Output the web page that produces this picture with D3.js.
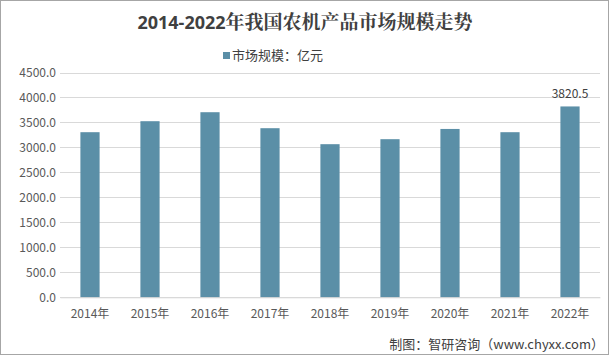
<!DOCTYPE html>
<html><head><meta charset="utf-8">
<script src="https://cdn.jsdelivr.net/npm/d3@7"></script>
<style>body{margin:0;background:#fff}svg{display:block}</style>
</head><body>
<script>
const categories = ["2014年","2015年","2016年","2017年","2018年","2019年","2020年","2021年","2022年"];
const values = [3305, 3525, 3705, 3385, 3065, 3165, 3370, 3305, 3820.5];
const yTicks = [0,500,1000,1500,2000,2500,3000,3500,4000,4500];
const labeled = ["2022年"];

const W=609,H=357;
const svg=d3.select("body").append("svg").attr("width",W).attr("height",H);
svg.append("rect").attr("x",0.5).attr("y",0.5).attr("width",W-1).attr("height",H-3).attr("fill","#fff").attr("stroke","#a6a6a6");

const x=d3.scaleBand().domain(categories).range([60,600]).paddingInner(0.68).paddingOuter(0.34);
const y=d3.scaleLinear().domain([0,4500]).range([297.3,72.5]);
const font='"Microsoft YaHei","Noto Sans CJK SC",sans-serif';

const title=svg.append("text").attr("x",305).attr("y",29).attr("text-anchor","middle")
 .attr("font-weight","bold").attr("font-size",19).attr("fill","#404040");
title.append("tspan").attr("font-family",'"Open Sans","Liberation Sans",sans-serif').attr("font-size",18).text("2014-2022");
title.append("tspan").attr("font-family",'"Noto Serif CJK SC","Noto Sans CJK SC",serif').text("年我国农机产品市场规模走势");

svg.append("rect").attr("x",223).attr("y",52).attr("width",7).attr("height",7).attr("fill","#5b8fa7");
svg.append("text").attr("x",232).attr("y",60).attr("font-family",font).attr("font-size",13).attr("fill","#404040").text("市场规模：亿元");

const g=svg.append("g");
g.selectAll("line.grid").data(yTicks).enter().append("line")
 .attr("x1",60).attr("x2",600).attr("y1",d=>Math.round(y(d))+0.5).attr("y2",d=>Math.round(y(d))+0.5)
 .attr("stroke","#d9d9d9").attr("stroke-width",1);

const yAxis=svg.append("g").attr("transform","translate(56,0)")
 .call(d3.axisLeft(y).tickValues(yTicks).tickFormat(d3.format(".1f")).tickSize(0).tickPadding(0));
yAxis.select(".domain").remove();
yAxis.selectAll("text").attr("font-family",font).attr("font-size",12).attr("fill","#595959");

svg.selectAll("rect.bar").data(values).enter().append("rect")
 .attr("x",(d,i)=>x(categories[i])).attr("width",x.bandwidth())
 .attr("y",d=>y(d)).attr("height",d=>y(0)-y(d)).attr("fill","#5b8fa7");

const xAxis=svg.append("g").attr("transform",`translate(0,${y(0)})`)
 .call(d3.axisBottom(x).tickSize(0).tickPadding(12));
xAxis.select(".domain").attr("stroke","#d9d9d9");
xAxis.selectAll("text").attr("font-family",font).attr("font-size",12).attr("fill","#595959");

svg.selectAll("text.lab").data(values.map((v,i)=>({v,c:categories[i]})).filter(d=>labeled.includes(d.c)))
 .enter().append("text").attr("x",d=>x(d.c)+x.bandwidth()/2).attr("y",d=>y(d.v)-8)
 .attr("text-anchor","middle").attr("font-family",font).attr("font-size",12).attr("fill","#404040")
 .text(d=>d3.format(".1f")(d.v));

svg.append("text").attr("x",604).attr("y",349).attr("text-anchor","end").attr("font-family",font).attr("font-size",13).attr("fill","#404040")
 .text("制图：智研咨询（www.chyxx.com）");
</script>
</body></html>
